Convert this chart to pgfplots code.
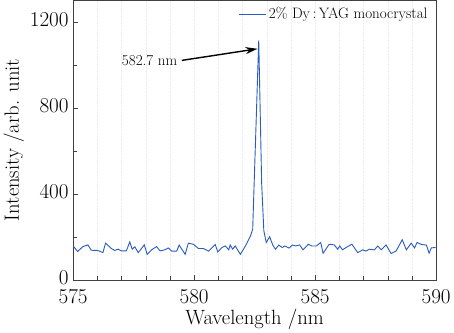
\documentclass[border=0pt]{standalone}
\usepackage{fontspec}
\usepackage{pgfplots}
\pgfplotsset{compat=1.18}
\usetikzlibrary{arrows.meta}
\definecolor{specblue}{HTML}{2A5CBF}
\begin{document}
\begin{tikzpicture}
\begin{axis}[
  scale only axis,
  width=361pt, height=278pt,
  xmin=575, xmax=590, ymin=0, ymax=1300,
  xtick={575,580,585,590},
  ytick={0,400,800,1200},
  minor x tick num=4,
  minor y tick num=1,
  tick pos=left,
  tick align=inside,
  major tick length=5pt,
  minor tick length=4pt,
  axis line style={black!75},
  every tick/.style={black!75},
  xmajorgrids, xminorgrids,
  grid style={black!7, densely dotted, line width=0.4pt},
  minor grid style={black!7, densely dotted, line width=0.4pt},
  /pgf/number format/assume math mode=true,
  /pgf/number format/1000 sep={},
  ticklabel style={font=\fontsize{21}{24}\selectfont},
  xticklabel style={yshift=-6pt},
  yticklabel style={xshift=-1pt, yshift=2pt},
  label style={font=\fontsize{20.5}{24}\selectfont},
  xlabel={Wavelength /nm},
  ylabel={Intensity /arb. unit},
  xlabel style={yshift=2pt},
  ylabel style={yshift=-1pt},
  legend style={draw=none, fill=none, at={(0.985,0.985)}, anchor=north east,
    font=\fontsize{15}{18}\selectfont, inner sep=1pt},
  legend cell align=left,
  legend image post style={xscale=1.6},
]
\addplot[specblue, line width=0.9pt] coordinates {
(575.00,157) (575.19,131) (575.40,154) (575.61,162) (575.75,137)
(576.02,136) (576.23,126) (576.34,170) (576.58,145) (576.72,136)
(576.86,142) (576.99,134) (577.20,134) (577.34,176) (577.44,142)
(577.55,153) (577.69,126) (577.94,162) (578.06,118) (578.24,139)
(578.45,154) (578.59,134) (578.79,139) (578.93,148) (579.07,133)
(579.28,133) (579.38,161) (579.63,118) (579.76,170) (579.97,165)
(580.18,145) (580.39,145) (580.60,133) (580.87,164) (580.98,129)
(581.15,150) (581.29,157) (581.43,139) (581.49,162) (581.59,142)
(581.70,157) (581.91,118) (582.12,157) (582.33,204) (582.42,235)
(582.67,1113) (582.79,450) (582.88,228) (582.98,173) (583.12,200)
(583.25,161) (583.36,142) (583.50,161) (583.64,150) (583.75,157)
(583.92,147) (584.06,161) (584.20,157) (584.36,162) (584.50,139)
(584.72,165) (584.86,157) (585.05,157) (585.23,173) (585.33,123)
(585.58,165) (585.79,162) (585.93,142) (586.02,157) (586.13,139)
(586.34,154) (586.52,165) (586.76,126) (586.97,139) (587.10,133)
(587.24,142) (587.45,139) (587.59,157) (587.73,139) (587.93,162)
(588.14,122) (588.35,134) (588.60,186) (588.77,139) (588.97,170)
(589.11,148) (589.21,173) (589.39,164) (589.60,161) (589.71,123)
(589.80,148) (589.98,150)
};
\addlegendentry{2\% Dy\,:\,YAG monocrystal}
\draw[-{Stealth[length=12pt,width=7pt]}, line width=1.4pt]
  (axis cs:579.49,1020) -- (axis cs:582.62,1074);
\node[anchor=east, font=\fontsize{15}{18}\selectfont] at (axis cs:579.45,1020) {582.7 nm};
\end{axis}
\end{tikzpicture}
\end{document}
